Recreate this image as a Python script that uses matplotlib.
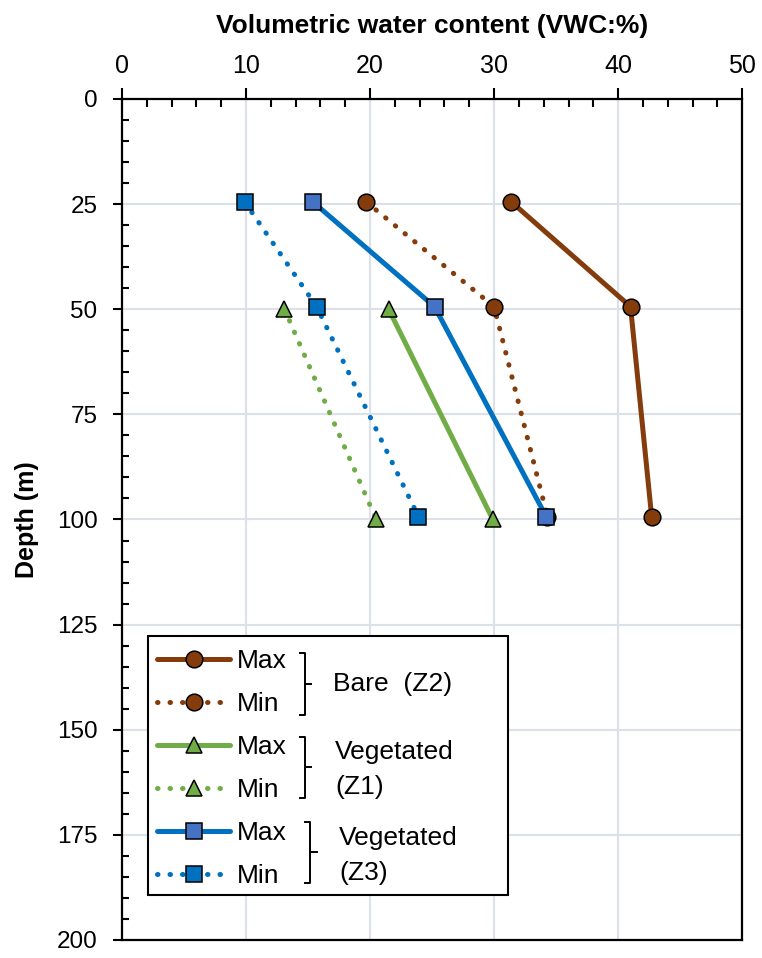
import matplotlib.pyplot as plt
from matplotlib.patches import Rectangle
from matplotlib.lines import Line2D
from matplotlib.ticker import MultipleLocator

plt.rcParams["font.family"] = ["Liberation Sans", "DejaVu Sans"]

# Data (VWC %, depth m)
depth3 = [24.5, 49.4, 99.3]
depth_tri = [50, 100]

bare_max = [31.4, 41.0, 42.7]
bare_min = [19.7, 30.0, 34.3]
z1_max = [21.5, 29.9]
z1_min = [13.1, 20.5]
z3_max = [15.4, 25.2, 34.2]
z3_min = [9.9, 15.7, 23.9]

brown = "#843C0C"
green = "#70AD47"
blue = "#0070C0"
blue2 = "#4472C4"
grid_c = "#DCE0E8"

fig = plt.figure(figsize=(7.62, 9.58), dpi=100)
ax = fig.add_axes([0.160, 0.0188, 0.814, 0.8779])

dot = (0, (0.1, 2.4))
common = dict(markeredgecolor="black", markeredgewidth=1.1, lw=3.6,
              dash_capstyle="round", solid_capstyle="round")

lines = []
lines += ax.plot(bare_max, depth3, color=brown, ls="-", marker="o", ms=12,
                 markerfacecolor=brown, **common)
lines += ax.plot(bare_min, depth3, color=brown, ls=dot, marker="o", ms=12,
                 markerfacecolor=brown, **common)
lines += ax.plot(z1_max, depth_tri, color=green, ls="-", marker="^", ms=12,
                 markerfacecolor=green, **common)
lines += ax.plot(z1_min, depth_tri, color=green, ls=dot, marker="^", ms=12,
                 markerfacecolor=green, **common)
lines += ax.plot(z3_max, depth3, color=blue, ls="-", marker="s", ms=11,
                 markerfacecolor=blue2, **common)
lines += ax.plot(z3_min, depth3, color=blue, ls=dot, marker="s", ms=11,
                 markerfacecolor=blue, **common)

ax.set_xlim(0, 50)
ax.set_ylim(200, 0)
ax.xaxis.set_major_locator(MultipleLocator(10))
ax.xaxis.set_minor_locator(MultipleLocator(2))
ax.yaxis.set_major_locator(MultipleLocator(25))
ax.yaxis.set_minor_locator(MultipleLocator(5))
ax.xaxis.tick_top()
ax.xaxis.set_label_position("top")
ax.tick_params(axis="x", which="major", direction="out", length=8, width=1.5,
               labelsize=18, pad=7)
ax.tick_params(axis="y", which="major", direction="out", length=6.5,
               width=1.5, labelsize=17.5, pad=11)
ax.tick_params(which="minor", direction="in", length=6, width=1.5)
ax.tick_params(axis="y", which="minor", length=5)
ax.grid(True, which="major", color=grid_c, lw=1.5)
ax.set_axisbelow(True)
for s in ax.spines.values():
    s.set_linewidth(1.6)
    s.set_color("black")

ax.set_xlabel("Volumetric water content (VWC:%)", fontsize=19,
              fontweight="bold", labelpad=15)
ax.set_ylabel("Depth (m)", fontsize=18, fontweight="bold", labelpad=13)

# legend box
ax.add_patch(Rectangle((0.0419, 0.0535), 0.5807, 0.308, transform=ax.transAxes,
                       facecolor="white", edgecolor="black", lw=1.5, zorder=5))
leg = ax.legend(lines, ["Max", "Min"] * 3, loc="upper left",
                bbox_to_anchor=(0.0565, 0.346), frameon=False, fontsize=19,
                handlelength=2.77, handletextpad=0.27, labelspacing=0.72,
                borderpad=0, borderaxespad=0)
leg.set_zorder(6)


def to_ax(px, py):
    return (px - 122) / 620, (940 - py) / 841


def bracket(x0, x1, ytop, ybot, xt):
    ymid = (ytop + ybot) / 2
    pts = [to_ax(x0, ytop), to_ax(x1, ytop), to_ax(x1, ybot), to_ax(x0, ybot)]
    ax.add_line(Line2D([p[0] for p in pts], [p[1] for p in pts], color="black",
                       lw=1.4, transform=ax.transAxes, zorder=7))
    a, b = to_ax(x1, ymid), to_ax(xt, ymid)
    ax.add_line(Line2D([a[0], b[0]], [a[1], b[1]], color="black", lw=1.4,
                       transform=ax.transAxes, zorder=7))


bracket(300, 305, 653, 715, 311)
bracket(300, 305, 737, 798, 311)
bracket(305, 310, 822, 883, 317)

for txt, px, py in [("Bare  (Z2)", 333, 684), ("Vegetated", 335, 752),
                    ("(Z1)", 335, 787), ("Vegetated", 339, 838),
                    ("(Z3)", 339, 873)]:
    x, y = to_ax(px, py)
    ax.text(x, y, txt, transform=ax.transAxes, fontsize=19, va="center",
            ha="left", zorder=7)

fig.savefig("out.png", dpi=100)
